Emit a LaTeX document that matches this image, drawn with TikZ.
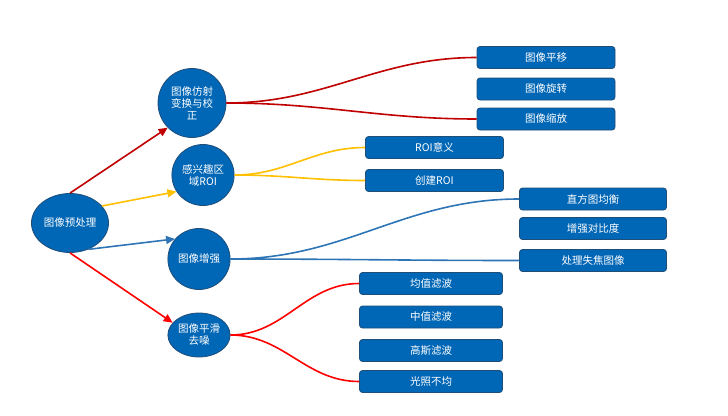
\documentclass[tikz,border=0pt]{standalone}
\usepackage{fontspec}
\setmainfont{Noto Sans CJK SC}
\usepackage{xcolor}
\usepackage{tikz}
\usetikzlibrary{arrows.meta,positioning,shapes.geometric}

\definecolor{nodeblue}{HTML}{0066B6}
\definecolor{edgeblue}{HTML}{1F4E79}
\definecolor{darkred}{HTML}{C00000}
\definecolor{brightred}{HTML}{FF0000}
\definecolor{gold}{HTML}{FFC000}
\definecolor{lineblue}{HTML}{2E75B6}

\begin{document}
\begin{tikzpicture}[
  x=1pt, y=-1pt,
  font=\fontsize{10.5}{12}\selectfont,
  every node/.style={align=center,inner sep=1pt,text=white},
  topic/.style={ellipse,draw=edgeblue,fill=nodeblue,line width=0.8pt},
  leaf/.style={draw=edgeblue,fill=nodeblue,rounded corners=3pt,line width=0.8pt,minimum height=22pt},
  wide/.style={leaf,minimum width=138pt},
  wider/.style={leaf,minimum width=147pt},
  arr/.style={-{Triangle[length=9pt,width=8pt]},line width=1.6pt},
  link/.style={line width=1.6pt}
]
\useasboundingbox (0,0) rectangle (728,415);

% centre and main branches
\node[topic,minimum width=74pt,minimum height=59pt] (root)  at (70,223)  {图像预处理};
\node[topic,minimum width=68pt,minimum height=69pt] (affine) at (192,103) {图像仿射\\变换与校\\正};
\node[topic,minimum width=62pt,minimum height=61pt] (roi)    at (203,175) {感兴趣区\\域ROI};
\node[topic,minimum width=62pt,minimum height=61pt] (enh)    at (199,259) {图像增强};
\node[topic,minimum width=62pt,minimum height=44pt] (smooth) at (199,335) {图像平滑\\去噪};

% leaves
\node[wide]  (shift)  at (546,57.5)  {图像平移};
\node[wide]  (rotate) at (546,89)    {图像旋转};
\node[wide]  (scale)  at (546,119)   {图像缩放};
\node[wide]  (roimean) at (434.5,147.5) {ROI意义};
\node[wide]  (roimake) at (434.5,180.5) {创建ROI};
\node[wider] (histeq)  at (593,199)   {直方图均衡};
\node[wider] (contr)   at (593,228.5) {增强对比度};
\node[wider] (defocus) at (593,260.5) {处理失焦图像};
\node[leaf,minimum width=143pt] (meanf)  at (431,283.5) {均值滤波};
\node[leaf,minimum width=143pt] (medf)   at (431,317)   {中值滤波};
\node[leaf,minimum width=143pt] (gaussf) at (431,350.5) {高斯滤波};
\node[leaf,minimum width=143pt] (light)  at (431,381.5) {光照不均};

% arrows out of the centre
\draw[arr,darkred]    (root.north) -- (affine.south west);
\draw[arr,gold]       (root.28)    -- (roi.212);
\draw[arr,lineblue]   (root.-55)   -- (enh.140);
\draw[arr,brightred]  (root.south) -- (smooth.155);

% curves to the leaves
\draw[link,darkred]   (affine.east) to[out=0,in=180] (shift.west);
\draw[link,darkred]   (affine.east) to[out=0,in=180] (scale.west);
\draw[link,gold]      (roi.east) to[out=0,in=180] (roimean.west);
\draw[link,gold]      (roi.east) to[out=0,in=180] (roimake.west);
\draw[link,lineblue]  (enh.east) to[out=0,in=180] (histeq.west);
\draw[link,lineblue]  (enh.east) to[out=0,in=180] (defocus.west);
\draw[link,brightred] (smooth.east) to[out=0,in=180] (meanf.west);
\draw[link,brightred] (smooth.east) to[out=0,in=180] (light.west);
\end{tikzpicture}
\end{document}
